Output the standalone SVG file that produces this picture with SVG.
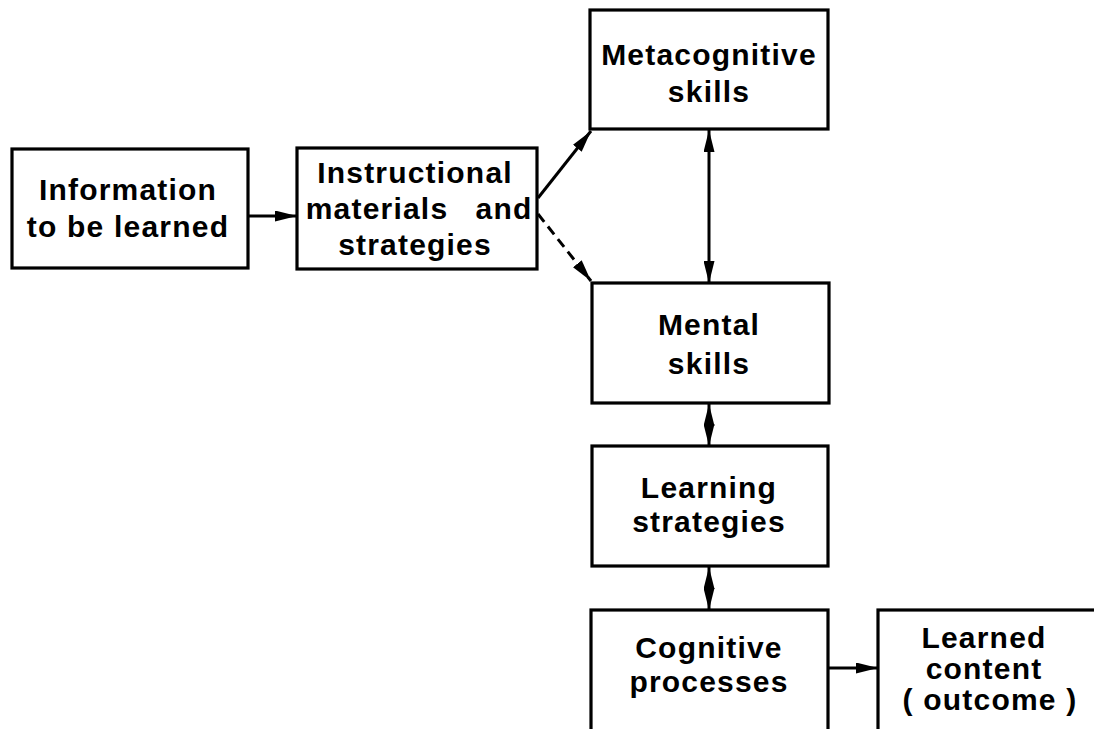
<svg xmlns="http://www.w3.org/2000/svg" width="1094" height="729" viewBox="0 0 1094 729">
<style>
.box{fill:#fff;stroke:#000;stroke-width:3.2}
.t{font-family:"Liberation Sans",Arial,sans-serif;font-weight:bold;font-size:30px;letter-spacing:1.2px;fill:#000;text-anchor:middle}
.c{stroke:#000;stroke-width:3;fill:none}
.d{stroke-dasharray:10 6}
</style>
<defs>
<marker id="ah" viewBox="0 0 22 11" refX="22" refY="5.5" markerWidth="22" markerHeight="11" markerUnits="userSpaceOnUse" orient="auto-start-reverse">
<path d="M0,0 L22,5.5 L0,11 Z" fill="#000"/>
</marker>
</defs>
<rect width="1094" height="729" fill="#fff"/>
<g id="connectors">
<line class="c" x1="248" y1="216" x2="297" y2="216" marker-end="url(#ah)"/>
<line class="c" x1="538" y1="198" x2="591" y2="131" marker-end="url(#ah)"/>
<line class="c d" x1="538" y1="214" x2="591" y2="281" marker-end="url(#ah)"/>
<line class="c" x1="709" y1="130" x2="709" y2="283" marker-start="url(#ah)" marker-end="url(#ah)"/>
<line class="c" x1="709" y1="404" x2="709" y2="446" marker-start="url(#ah)" marker-end="url(#ah)"/>
<line class="c" x1="709" y1="567" x2="709" y2="610" marker-start="url(#ah)" marker-end="url(#ah)"/>
<line class="c" x1="828" y1="668" x2="878" y2="668" marker-end="url(#ah)"/>
</g>
<g id="info">
<rect class="box" x="12" y="149" width="236" height="119"/>
<text class="t" x="128" y="200">Information</text>
<text class="t" x="128" y="237">to be learned</text>
</g>
<g id="instructional">
<rect class="box" x="297" y="148" width="240" height="121"/>
<text class="t" x="415" y="183">Instructional</text>
<text class="t" x="377" y="219">materials</text>
<text class="t" x="504" y="219">and</text>
<text class="t" x="415" y="255">strategies</text>
</g>
<g id="metacognitive">
<rect class="box" x="590" y="10" width="238" height="119"/>
<text class="t" x="709" y="65">Metacognitive</text>
<text class="t" x="709" y="102">skills</text>
</g>
<g id="mental">
<rect class="box" x="592" y="283" width="237" height="120"/>
<text class="t" x="709" y="335">Mental</text>
<text class="t" x="709" y="374">skills</text>
</g>
<g id="learning">
<rect class="box" x="592" y="446" width="236" height="120"/>
<text class="t" x="709" y="498">Learning</text>
<text class="t" x="709" y="532">strategies</text>
</g>
<g id="cognitive">
<rect class="box" x="591" y="610" width="237" height="130"/>
<text class="t" x="709" y="658">Cognitive</text>
<text class="t" x="709" y="692">processes</text>
</g>
<g id="learned">
<rect class="box" x="878" y="610" width="230" height="130"/>
<text class="t" x="984" y="648">Learned</text>
<text class="t" x="984" y="679">content</text>
<text class="t" x="990" y="710">( outcome )</text>
</g>
</svg>
